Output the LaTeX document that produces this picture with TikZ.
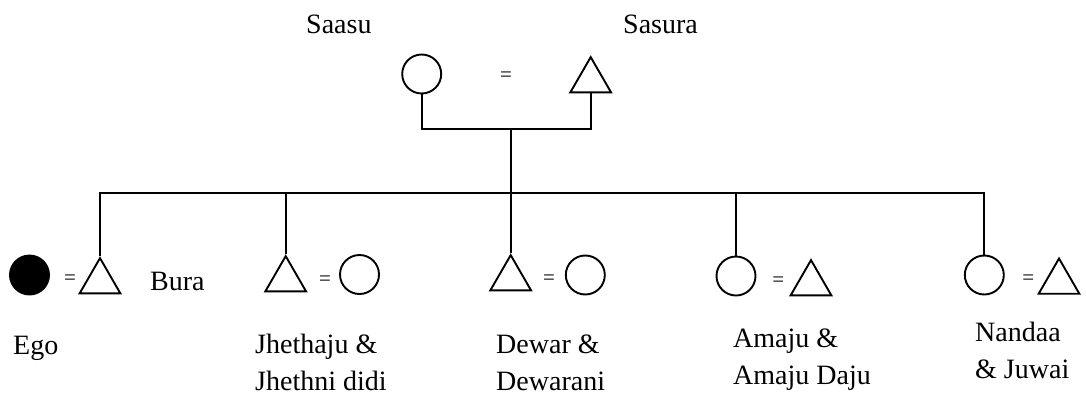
\documentclass[tikz,border=0pt]{standalone}
\usepackage{fontspec}
\setmainfont{Liberation Serif}
\usetikzlibrary{shapes.geometric}
\tikzset{
  fem/.style={circle,draw=black,line width=1.9pt,minimum size=39pt,inner sep=0pt},
  egofem/.style={fem,fill=black},
  mal/.style={regular polygon,regular polygon sides=3,draw=black,line width=1.9pt,minimum size=47pt,inner sep=0pt},
  eqs/.style={font=\fontsize{21}{21}\selectfont,inner sep=0pt},
  lbl/.style={font=\fontsize{28}{37}\selectfont,anchor=base west,align=left,inner sep=0pt},
  ln/.style={line width=1.9pt},
}
\begin{document}
\begin{tikzpicture}[x=1pt,y=-1pt]

\useasboundingbox (0,0) rectangle (1086,394);

% parents-in-law
\node[fem] at (421.7,74)  (SA){};
\node[mal] at (590.7,80.6)(SS){};
\node[eqs] at (506,77)    (Q0){=};
\node[lbl] at (306,33)    (T0){Saasu};
\node[lbl] at (623,33)    (T1){Sasura};
\coordinate (C0) at (510.7,129.3);
\coordinate (C1) at (510.7,193.3);

% children with spouses
\node[egofem] at (29.5,275)  (EG){};
\node[mal] at (100,281.6)    (B1){};
\node[mal] at (285.7,279.6)  (B2){};
\node[fem] at (359.5,274.5)  (W2){};
\node[mal] at (510.7,278.6)  (B3){};
\node[fem] at (585.3,275)    (W3){};
\node[fem] at (736,276)      (B4){};
\node[mal] at (811,283.6)    (W4){};
\node[fem] at (984.3,275)    (B5){};
\node[mal] at (1059,282)     (W5){};

\node[eqs] at (70,280)     (Q1){=};
\node[eqs] at (325,280.7)  (Q2){=};
\node[eqs] at (549,280)    (Q3){=};
\node[eqs] at (778.3,281.7)(Q4){=};
\node[eqs] at (1028.3,280) (Q5){=};

% names (two-line names sit on their last line)
\node[lbl] at (13,354)  (L0){Ego};
\node[lbl] at (150,290) (L1){Bura};
\node[lbl] at (255,390) (L2){Jhethaju \&\\Jhethni didi};
\node[lbl] at (496,390) (L3){Dewar \&\\Dewarani};
\node[lbl] at (733,384) (L4){Amaju \&\\Amaju Daju};
\node[lbl] at (975,378) (L5){Nandaa\\\& Juwai};

% descent lines
\draw[ln](SA.south)|-(C0)-|(SS.south);
\draw[ln](C0)--(C1);
\draw[ln](B1.north)|-(C1)-|(B5.north);
\draw[ln](B2.north)--(B2.north|-C1);
\draw[ln](B3.north)--(C1);
\draw[ln](B4.north)--(B4.north|-C1);

\end{tikzpicture}
\end{document}
